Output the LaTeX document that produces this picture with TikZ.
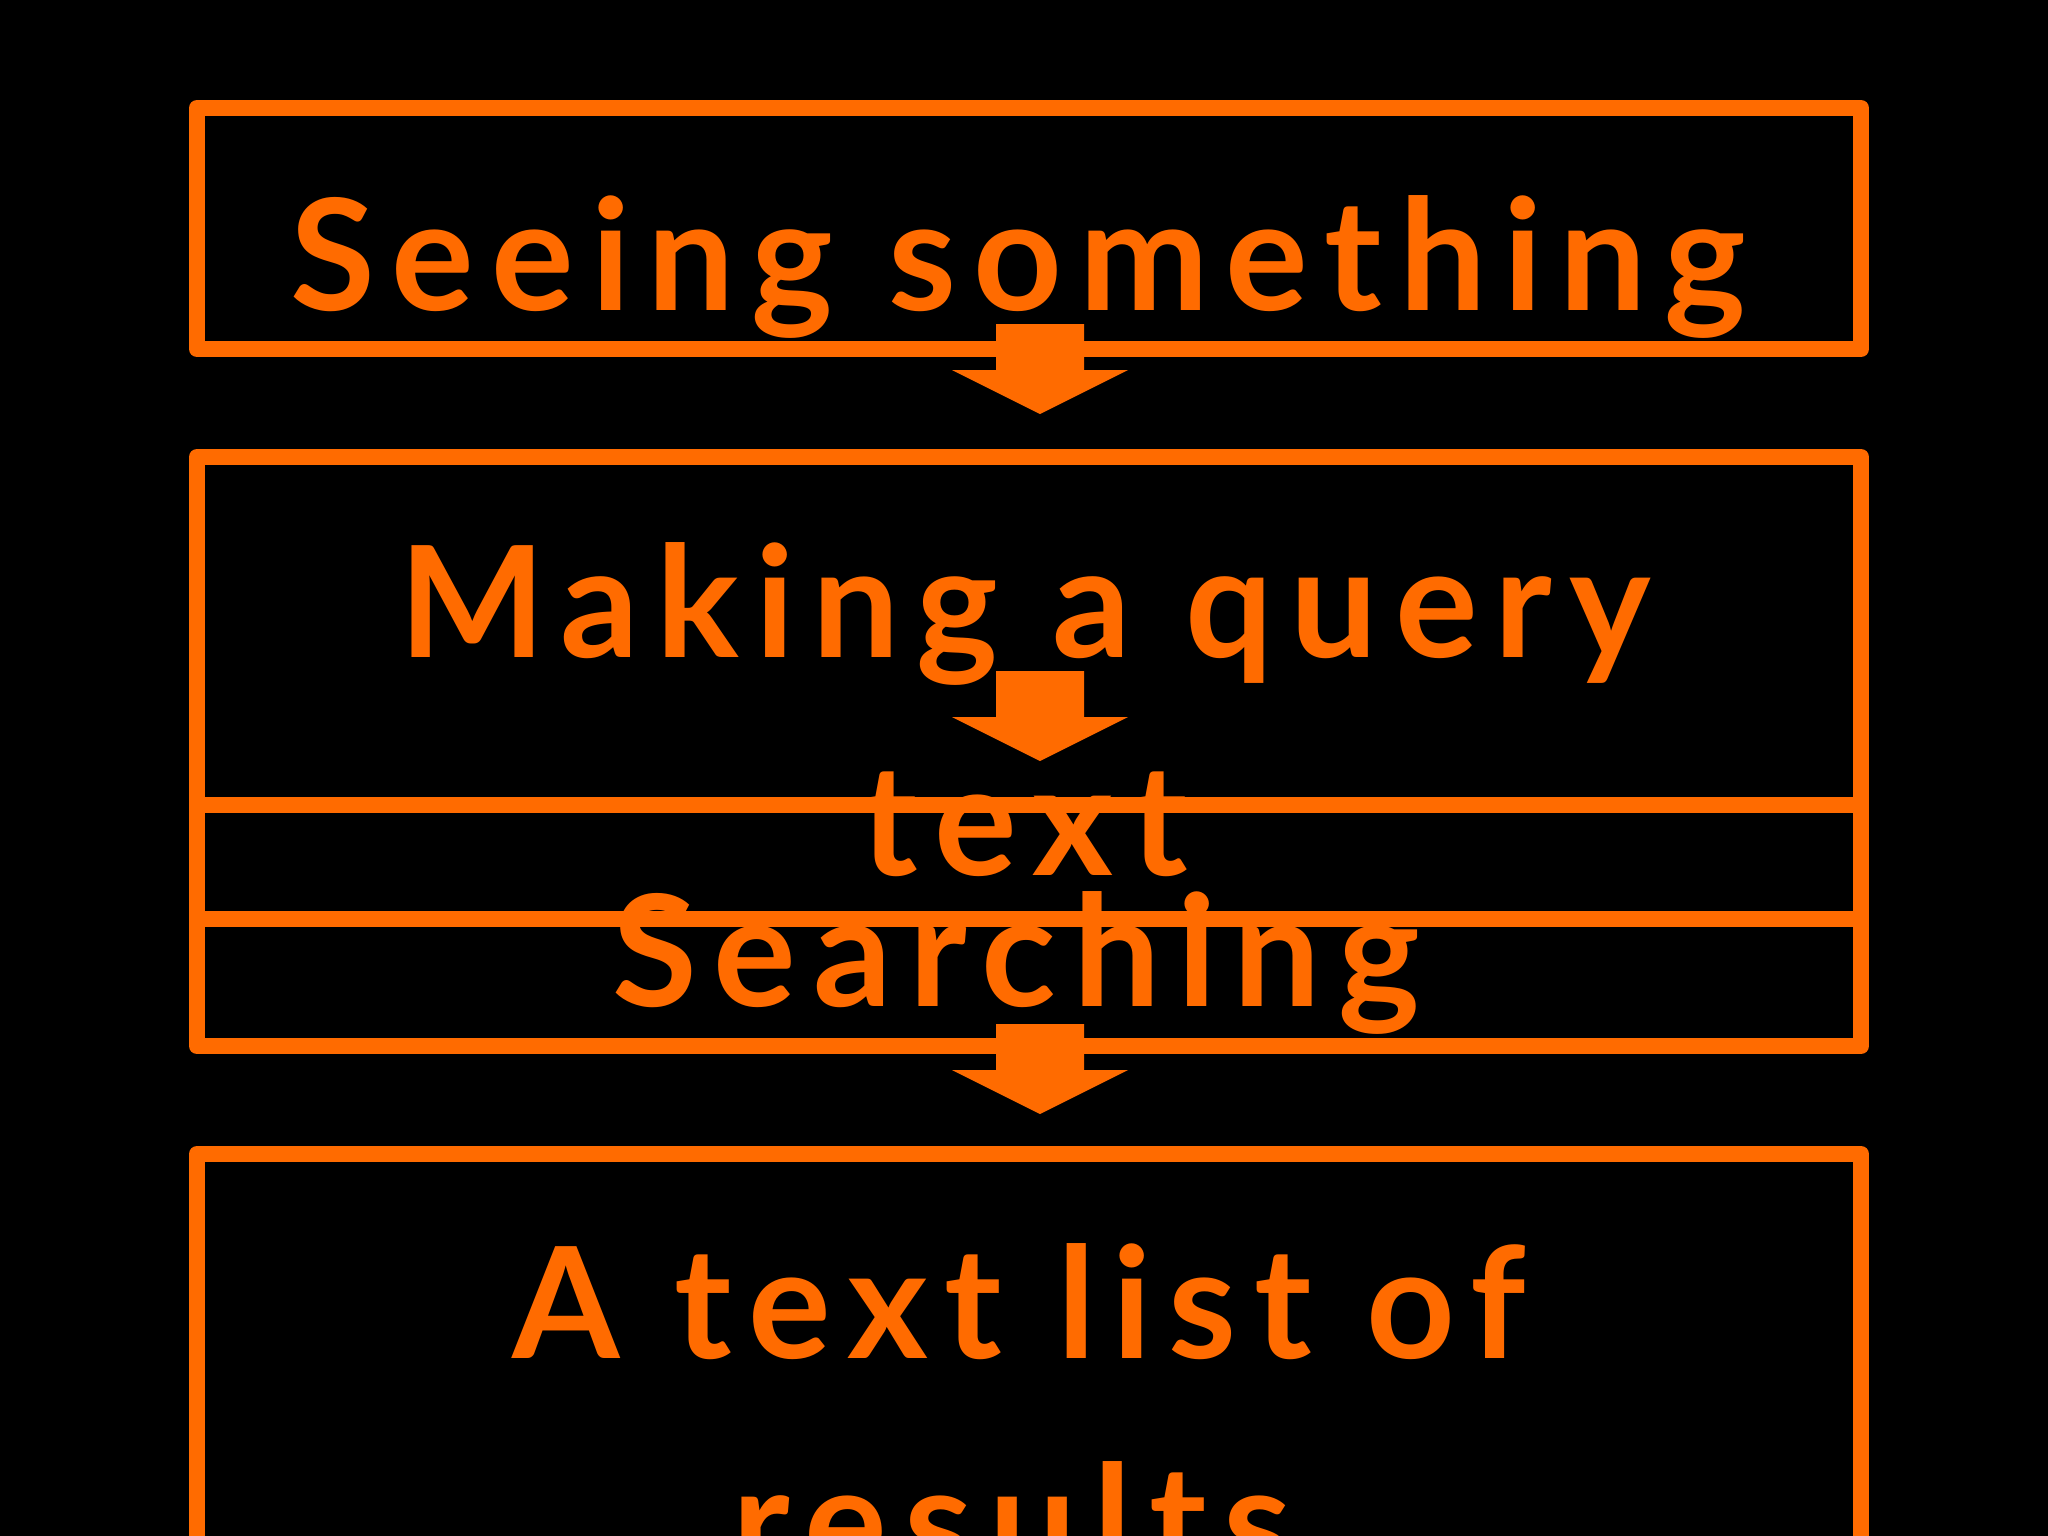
\documentclass[tikz,border=0pt]{standalone}
\usepackage{fontspec}
\setmainfont{Lato}[LetterSpace=11]
\definecolor{hot}{HTML}{FF6B00}
\begin{document}
\begin{tikzpicture}[x=0.01cm, y=-0.01cm,
    box/.style={draw=hot, line width=1.6mm, line join=round},
    label/.style={text=hot, font=\fontsize{44}{52}\selectfont\bfseries, anchor=base, inner sep=0pt},
    downarrow/.pic={\fill[hot] (-44,0) -- (44,0) -- (44,46) -- (88,46) -- (0,90) -- (-88,46) -- (-44,46) -- cycle;}]
        \fill[black] (0,0) rectangle (2048,1536);
        \useasboundingbox (0,0) rectangle (2048,1536);

        % boxes
        \draw[box] (197,108) rectangle (1861,349);
        \draw[box] (197,457) rectangle (1861,1046);
        \draw[box] (197,805) -- (1861,805);
        \draw[box] (197,919) -- (1861,919);
        \draw[box] (197,1560) -- (197,1154) -- (1861,1154) -- (1861,1560);

        % texts
        \node[label] (seeing) at (1018,310) {Seeing something};
        \node[label] (query) at (1025,657) {Making a query};
        \node[label] (querytext) at (1024,875) {text};
        \node[label] (searching) at (1016,1006) {Searching};
        \node[label] (list) at (1019,1358) {A text list of};
        \node[label] (results) at (1012,1576) {results};

        % arrows
        \coordinate (a1) at (1040,324);
        \coordinate (a2) at (1040,671);
        \coordinate (a3) at (1040,1024);
        \pic at (a1) {downarrow};
        \pic at (a2) {downarrow};
        \pic at (a3) {downarrow};
    \end{tikzpicture}
\end{document}
